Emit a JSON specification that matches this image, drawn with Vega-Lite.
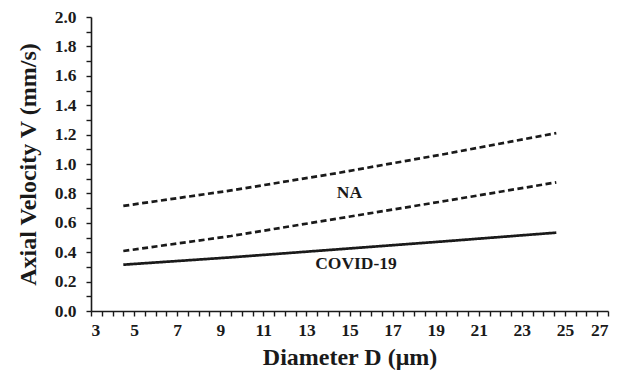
{
  "$schema": "https://vega.github.io/schema/vega-lite/v6.json",
  "width": 517,
  "height": 294,
  "autosize": {"type": "none"},
  "padding": {"left": 91, "top": 17, "right": 9, "bottom": 65},
  "background": "white",
  "config": {
    "view": {"stroke": null},
    "font": "Liberation Serif",
    "axis": {
      "grid": false,
      "domainColor": "#1a1a1a",
      "domainWidth": 1.6,
      "tickColor": "#1a1a1a",
      "tickWidth": 1.4,
      "tickSize": 5,
      "labelFont": "Liberation Serif",
      "labelFontWeight": "bold",
      "labelFontSize": 17.5,
      "labelColor": "#1a1a1a",
      "titleFont": "Liberation Serif",
      "titleFontWeight": "bold",
      "titleFontSize": 24,
      "titleColor": "#1a1a1a",
      "labelOverlap": false
    }
  },
  "datasets": {
    "lines": [
      {"series": "NA upper", "D": 4.5, "V": 0.715},
      {"series": "NA upper", "D": 9.5, "V": 0.82},
      {"series": "NA upper", "D": 14.5, "V": 0.94},
      {"series": "NA upper", "D": 19.5, "V": 1.07},
      {"series": "NA upper", "D": 24.6, "V": 1.21},
      {"series": "NA lower", "D": 4.5, "V": 0.408},
      {"series": "NA lower", "D": 9.5, "V": 0.51},
      {"series": "NA lower", "D": 14.5, "V": 0.63},
      {"series": "NA lower", "D": 19.5, "V": 0.75},
      {"series": "NA lower", "D": 24.6, "V": 0.875},
      {"series": "COVID-19", "D": 4.5, "V": 0.315},
      {"series": "COVID-19", "D": 9.5, "V": 0.365},
      {"series": "COVID-19", "D": 14.5, "V": 0.42},
      {"series": "COVID-19", "D": 19.5, "V": 0.475},
      {"series": "COVID-19", "D": 24.6, "V": 0.533}
    ],
    "labels": [
      {"label": "NA", "D": 15.0, "V": 0.805},
      {"label": "COVID-19", "D": 15.3, "V": 0.32}
    ]
  },
  "encoding": {
    "x": {
      "field": "D", "type": "quantitative",
      "scale": {"domain": [3, 27], "nice": false, "zero": false},
      "axis": {
        "title": "Diameter D (μm)",
        "values": [3,3.5,4,4.5,5,5.5,6,6.5,7,7.5,8,8.5,9,9.5,10,10.5,11,11.5,12,12.5,13,13.5,14,14.5,15,15.5,16,16.5,17,17.5,18,18.5,19,19.5,20,20.5,21,21.5,22,22.5,23,23.5,24,24.5,25,25.5,26,26.5,27],
        "labelExpr": "(round(datum.value*2) % 4 == 2) ? format(datum.value, 'd') : ''",
        "labelOverlap": false,
        "labelPadding": 5,
        "titlePadding": 7
      }
    },
    "y": {
      "field": "V", "type": "quantitative",
      "scale": {"domain": [0, 2], "nice": false},
      "axis": {
        "title": "Axial Velocity V (mm/s)",
        "values": [0,0.1,0.2,0.3,0.4,0.5,0.6,0.7,0.8,0.9,1.0,1.1,1.2,1.3,1.4,1.5,1.6,1.7,1.8,1.9,2.0],
        "labelExpr": "(round(datum.value*10) % 2 == 0) ? format(datum.value, '.1f') : ''",
        "labelOverlap": false,
        "labelPadding": 10,
        "titlePadding": 14
      }
    }
  },
  "layer": [
    {
      "data": {"name": "lines"},
      "mark": {"type": "line", "color": "#1a1a1a", "strokeWidth": 2.7},
      "encoding": {
        "detail": {"field": "series"},
        "strokeDash": {
          "field": "series", "type": "nominal",
          "scale": {"domain": ["NA upper", "NA lower", "COVID-19"], "range": [[6, 3.5], [6, 3.5], [1, 0]]},
          "legend": null
        }
      }
    },
    {
      "data": {"name": "labels"},
      "mark": {"type": "text", "font": "Liberation Serif", "fontWeight": "bold", "fontSize": 17.5, "color": "#1a1a1a", "align": "center", "baseline": "middle"},
      "encoding": {
        "text": {"field": "label"}
      }
    }
  ]
}
